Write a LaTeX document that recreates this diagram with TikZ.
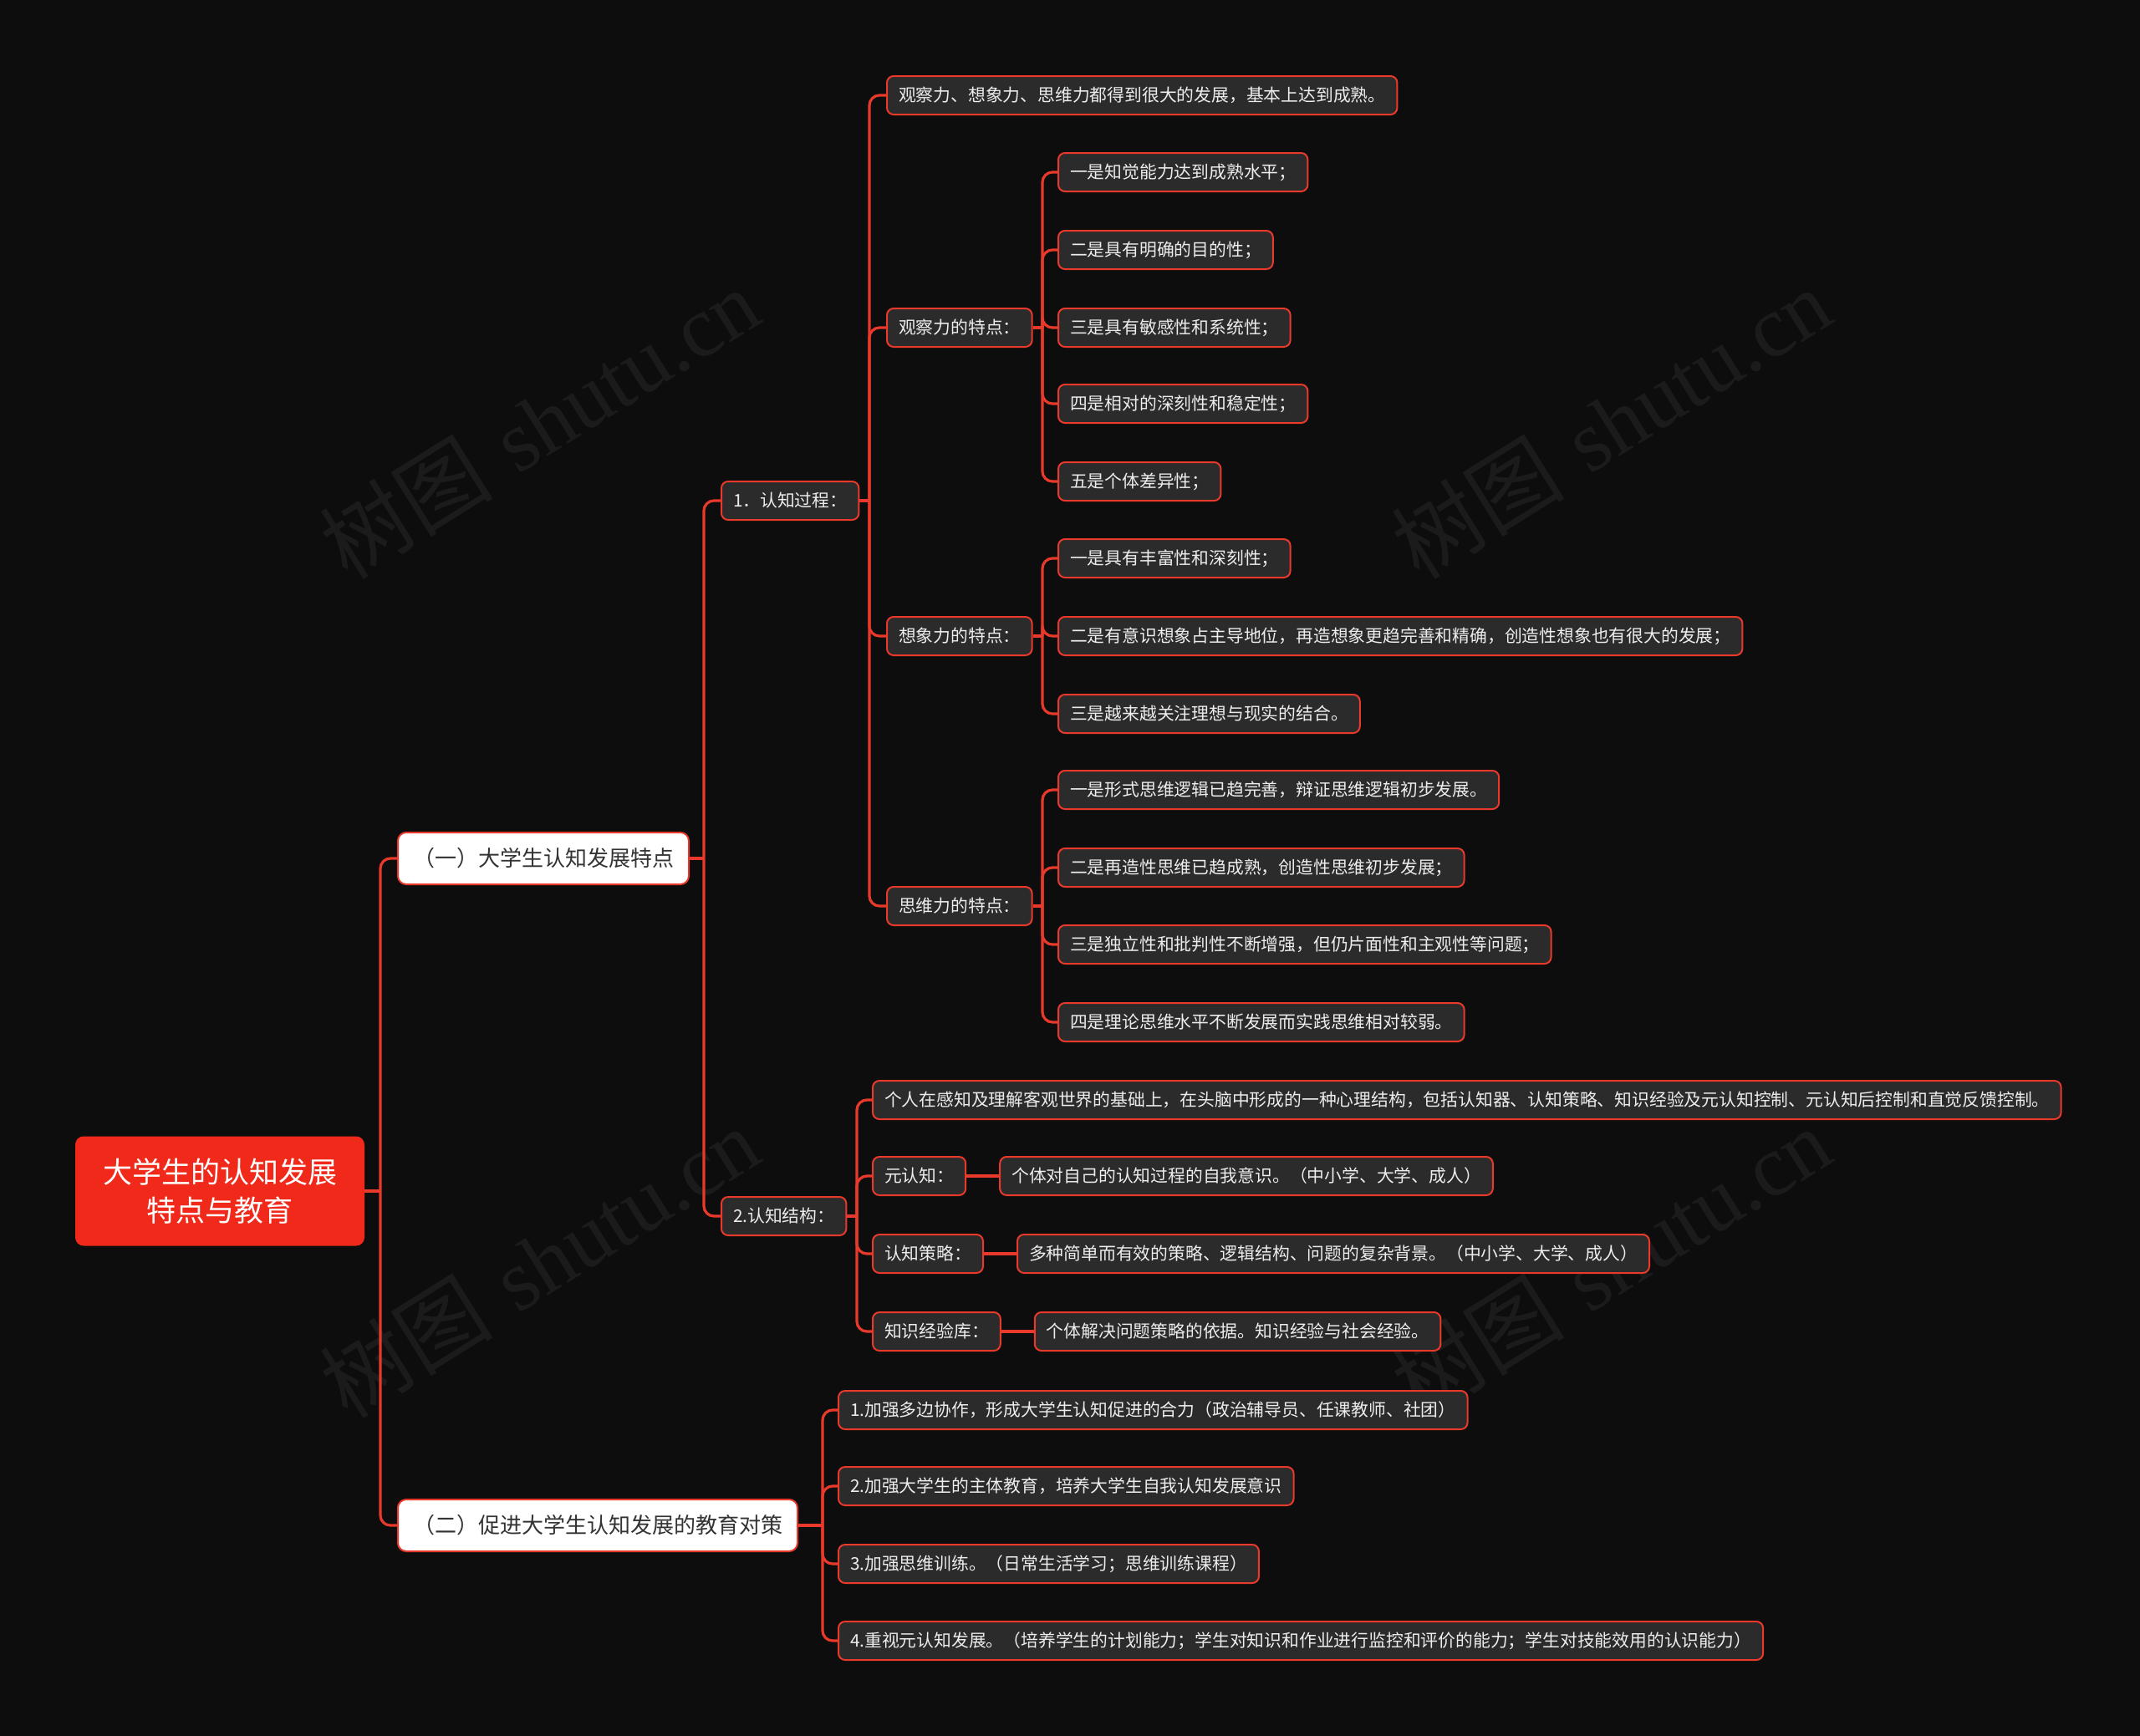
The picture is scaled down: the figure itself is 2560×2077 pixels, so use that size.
\documentclass[tikz,border=0pt]{standalone}
\usepackage{fontspec}
\newfontfamily\cjk{Noto Sans CJK SC}
\newfontfamily\wmserif{Liberation Serif}
\usetikzlibrary{calc}
\definecolor{bg}{HTML}{0D0D0D}
\definecolor{mred}{HTML}{E8392B}
\definecolor{rootred}{HTML}{F0291A}
\definecolor{boxgray}{HTML}{2B2B2B}
\definecolor{txt}{HTML}{EDEDED}
\definecolor{dtxt}{HTML}{333333}
\begin{document}
\begin{tikzpicture}[x=0.5pt,y=-0.5pt,
  leaf/.style={draw=mred, line width=1pt, fill=boxgray, rounded corners=4pt, text=txt,
    font=\cjk\fontsize{10.4}{12}\selectfont, minimum height=23pt, inner xsep=7pt, inner ysep=0pt, anchor=west},
  lone/.style={draw=mred, line width=1pt, fill=white, rounded corners=5pt, text=dtxt,
    font=\cjk\fontsize{13}{15}\selectfont, minimum height=31pt, inner xsep=9pt, inner ysep=0pt, anchor=west},
  rootbox/.style={fill=rootred, rounded corners=5pt, text=white,
    font=\cjk\fontsize{17.5}{23}\selectfont, minimum width=173pt, minimum height=65.5pt, align=center},
  conn/.style={draw=mred, line width=1.6pt},
  br/.style={conn, rounded corners=6pt},
  wm/.style={rotate=32, text=white, opacity=0.06, font=\fontsize{52}{60}\selectfont}]
\fill[bg] (0,0) rectangle (2560,2077);
\useasboundingbox (0,0) rectangle (2560,2077);

% watermarks
\node[wm] (wm1) at (645,506) {{\cjk 树图} {\wmserif shutu.cn}};
\node[wm] (wm2) at (1927,506) {{\cjk 树图} {\wmserif shutu.cn}};
\node[wm] (wm3) at (645,1510) {{\cjk 树图} {\wmserif shutu.cn}};
\node[wm] (wm4) at (1927,1510) {{\cjk 树图} {\wmserif shutu.cn}};

% nodes
\node[rootbox] (root) at (263,1425) {大学生的认知发展\\特点与教育};
\node[lone] (A) at (475,1027) {（一）大学生认知发展特点};
\node[lone] (B) at (475,1825) {（二）促进大学生认知发展的教育对策};

\node[leaf] (A1) at (862,599) {1．认知过程：};
\node[leaf] (A2) at (862,1455) {2.认知结构：};

\node[leaf] (a) at (1060,114) {观察力、想象力、思维力都得到很大的发展，基本上达到成熟。};
\node[leaf] (b) at (1060,392) {观察力的特点：};
\node[leaf] (c) at (1060,761) {想象力的特点：};
\node[leaf] (d) at (1060,1084) {思维力的特点：};

\node[leaf] (b1) at (1265,206) {一是知觉能力达到成熟水平；};
\node[leaf] (b2) at (1265,299) {二是具有明确的目的性；};
\node[leaf] (b3) at (1265,392) {三是具有敏感性和系统性；};
\node[leaf] (b4) at (1265,483) {四是相对的深刻性和稳定性；};
\node[leaf] (b5) at (1265,576) {五是个体差异性；};

\node[leaf] (c1) at (1265,668) {一是具有丰富性和深刻性；};
\node[leaf] (c2) at (1265,761) {二是有意识想象占主导地位，再造想象更趋完善和精确，创造性想象也有很大的发展；};
\node[leaf] (c3) at (1265,854) {三是越来越关注理想与现实的结合。};

\node[leaf] (d1) at (1265,945) {一是形式思维逻辑已趋完善，辩证思维逻辑初步发展。};
\node[leaf] (d2) at (1265,1038) {二是再造性思维已趋成熟，创造性思维初步发展；};
\node[leaf] (d3) at (1265,1130) {三是独立性和批判性不断增强，但仍片面性和主观性等问题；};
\node[leaf] (d4) at (1265,1223) {四是理论思维水平不断发展而实践思维相对较弱。};

\node[leaf] (e) at (1043,1316) {个人在感知及理解客观世界的基础上，在头脑中形成的一种心理结构，包括认知器、认知策略、知识经验及元认知控制、元认知后控制和直觉反馈控制。};
\node[leaf] (f) at (1043,1407) {元认知：};
\node[leaf] (g) at (1043,1500) {认知策略：};
\node[leaf] (h) at (1043,1593) {知识经验库：};
\node[leaf] (f1) at ($(f.east)+(39,0)$) {个体对自己的认知过程的自我意识。（中小学、大学、成人）};
\node[leaf] (g1) at ($(g.east)+(39,0)$) {多种简单而有效的策略、逻辑结构、问题的复杂背景。（中小学、大学、成人）};
\node[leaf] (h1) at ($(h.east)+(39,0)$) {个体解决问题策略的依据。知识经验与社会经验。};

\node[leaf] (B1) at (1002,1687) {1.加强多边协作，形成大学生认知促进的合力（政治辅导员、任课教师、社团）};
\node[leaf] (B2) at (1002,1778) {2.加强大学生的主体教育，培养大学生自我认知发展意识};
\node[leaf] (B3) at (1002,1871) {3.加强思维训练。（日常生活学习；思维训练课程）};
\node[leaf] (B4) at (1002,1963) {4.重视元认知发展。（培养学生的计划能力；学生对知识和作业进行监控和评价的能力；学生对技能效用的认识能力）};

% spine junction coordinates
\coordinate (sR) at (455,1425);
\coordinate (sA) at (842,1027);
\coordinate (sA1) at (1040,599);
\coordinate (sb) at (1247,392);
\coordinate (sc) at (1247,761);
\coordinate (sd) at (1247,1084);
\coordinate (sA2) at (1025,1455);
\coordinate (sB) at (984,1825);

% connectors
\draw[conn] (root.east) -- (sR);
\foreach \t in {A,B} \draw[br] (sR) |- (\t.west);

\draw[conn] (A.east) -- (sA);
\foreach \t in {A1,A2} \draw[br] (sA) |- (\t.west);

\draw[conn] (A1.east) -- (sA1);
\foreach \t in {a,b,c,d} \draw[br] (sA1) |- (\t.west);

\draw[conn] (b.east) -- (sb);
\foreach \t in {b1,b2,b3,b4,b5} \draw[br] (sb) |- (\t.west);

\draw[conn] (c.east) -- (sc);
\foreach \t in {c1,c2,c3} \draw[br] (sc) |- (\t.west);

\draw[conn] (d.east) -- (sd);
\foreach \t in {d1,d2,d3,d4} \draw[br] (sd) |- (\t.west);

\draw[conn] (A2.east) -- (sA2);
\foreach \t in {e,f,g,h} \draw[br] (sA2) |- (\t.west);

\draw[conn] (f.east) -- (f1.west);
\draw[conn] (g.east) -- (g1.west);
\draw[conn] (h.east) -- (h1.west);

\draw[conn] (B.east) -- (sB);
\foreach \t in {B1,B2,B3,B4} \draw[br] (sB) |- (\t.west);
\end{tikzpicture}
\end{document}
